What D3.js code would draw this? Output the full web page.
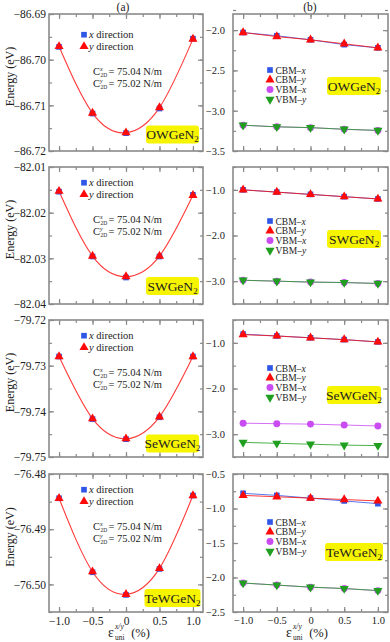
<!DOCTYPE html>
<html>
<head>
<meta charset="utf-8">
<script src="https://cdn.jsdelivr.net/npm/d3@7"></script>
<style>
  body { margin: 0; background: #fff; }
  svg text { font-family: "Liberation Serif", "DejaVu Serif", serif; fill: #222; }
</style>
</head>
<body>
<svg id="chart" width="390" height="642"></svg>
<script>
// strain values (%), shared by all panels
var strain = [-1.0, -0.5, 0, 0.5, 1.0];
var xTickLabels = ["\u22121.0", "\u22120.5", "0", "0.5", "1.0"];
var names = ["OWGeN", "SWGeN", "SeWGeN", "TeWGeN"];

// total energy (eV), x and y direction
var totalX = [
    [-86.6972, -86.7118, -86.7161, -86.7107, -86.6954],
    [-82.0154, -82.0296, -82.0342, -82.0296, -82.0161],
    [-79.7280, -79.7417, -79.7461, -79.7413, -79.7280],
    [-76.4844, -76.4978, -76.5019, -76.4972, -76.4839]
];
var totalY = [
    [-86.6971, -86.7117, -86.7160, -86.7105, -86.6955],
    [-82.0153, -82.0295, -82.0340, -82.0295, -82.0162],
    [-79.7280, -79.7416, -79.7460, -79.7412, -79.7280],
    [-76.4844, -76.4977, -76.5018, -76.4971, -76.4839]
];

// band edges (eV)
var cbmX = [
    [-2.03, -2.07, -2.12, -2.18, -2.22],
    [-1.00, -1.05, -1.10, -1.15, -1.20],
    [-0.81, -0.85, -0.89, -0.93, -0.98],
    [-0.78, -0.81, -0.85, -0.89, -0.93]
];
var cbmY = [
    [-2.03, -2.08, -2.12, -2.17, -2.22],
    [-1.00, -1.05, -1.10, -1.15, -1.20],
    [-0.82, -0.85, -0.89, -0.93, -0.98],
    [-0.81, -0.83, -0.85, -0.87, -0.89]
];
var vbmX = [
    [-3.18, -3.20, -3.21, -3.23, -3.245],
    [-2.98, -3.00, -3.02, -3.03, -3.05],
    [-2.76, -2.77, -2.78, -2.80, -2.82],
    [-2.08, -2.11, -2.14, -2.16, -2.19]
];
var vbmY = [
    [-3.18, -3.20, -3.21, -3.23, -3.245],
    [-2.98, -3.00, -3.02, -3.03, -3.05],
    [-3.18, -3.20, -3.22, -3.24, -3.25],
    [-2.08, -2.11, -2.14, -2.16, -2.19]
];

// axis extents and ticks
var leftDomains = [[-86.72, -86.69], [-82.04, -82.01], [-79.75, -79.72], [-76.505, -76.48]];
var leftMajor = [
    [-86.69, -86.70, -86.71, -86.72],
    [-82.01, -82.02, -82.03, -82.04],
    [-79.72, -79.73, -79.74, -79.75],
    [-76.48, -76.49, -76.50]
];
var rightDomains = [[-3.5, -1.8], [-3.5, -0.5], [-3.5, -0.5], [-2.5, -0.5]];
var rightMajor = [
    [-2.0, -2.5, -3.0, -3.5],
    [-1.0, -2.0, -3.0],
    [-1.0, -2.0, -3.0],
    [-0.5, -1.0, -1.5, -2.0, -2.5]
];
var rightMinorStep = [0.25, 0.5, 0.5, 0.25];

var svg = d3.select("#chart");
var top_ = [14, 167, 320, 474], bottom_ = [151, 304, 457, 612];
var colL = [49, 203], colR = [233, 388];
var gray = "#8a8a8a";
var blue = "#2f56e6", red = "#ff0a0a", magenta = "#c94cf2", green = "#1f9e1f";

function range(a, b, step) {
    var out = [];
    var n = Math.round((b - a) / step);
    for (var i = 0; i <= n; ++i) out.push(+(a + i * step).toFixed(4));
    return out;
}

function frame(g, x, y, majorY, minorY, fmt, pad, fs, showX) {
    var x0 = x.range()[0], x1 = x.range()[1];
    var y0 = y.range()[0], y1 = y.range()[1];
    var xMinor = range(-1.0, 1.0, 0.25);

    var ax = [
	[d3.axisLeft(y).tickValues(majorY).tickFormat(fmt).tickSize(-5).tickPadding(pad), x0, 0],
	[d3.axisLeft(y).tickValues(minorY).tickFormat("").tickSize(-3), x0, 0],
	[d3.axisRight(y).tickValues(majorY).tickFormat("").tickSize(-5), x1, 0],
	[d3.axisRight(y).tickValues(minorY).tickFormat("").tickSize(-3), x1, 0],
	[d3.axisTop(x).tickValues(strain).tickFormat("").tickSize(-5), 0, y1],
	[d3.axisTop(x).tickValues(xMinor).tickFormat("").tickSize(-3), 0, y1],
	[d3.axisBottom(x).tickValues(strain).tickFormat(function (d, i) { return showX ? xTickLabels[i] : ""; })
	    .tickSize(-5).tickPadding(5), 0, y0],
	[d3.axisBottom(x).tickValues(xMinor).tickFormat("").tickSize(-3), 0, y0]
    ];
    ax.forEach(function (a) {
	var ag = g.append("g").attr("transform", "translate(" + a[1] + "," + a[2] + ")").call(a[0].tickSizeOuter(0));
	ag.select(".domain").remove();
	ag.selectAll("line").attr("stroke", gray).attr("stroke-width", 1.2);
	ag.selectAll("text").attr("font-size", fs).attr("font-family", "Liberation Serif").attr("fill", "#222");
    });
    g.append("rect").attr("x", x0).attr("y", y1).attr("width", x1 - x0).attr("height", y0 - y1)
	.attr("fill", "none").attr("stroke", gray).attr("stroke-width", 1.6);
}

function nameBox(g, cx, cy, w, name) {
    g.append("rect").attr("x", cx - w / 2).attr("y", cy - 9).attr("width", w).attr("height", 18)
	.attr("rx", 3).attr("fill", "#f7f400");
    var t = g.append("text").attr("x", cx).attr("y", cy + 4.5).attr("text-anchor", "middle")
	.attr("font-size", 13.5);
    t.append("tspan").text(name);
    t.append("tspan").attr("font-size", 9).attr("dy", 3).text("2");
}

var tri = d3.symbol().type(d3.symbolTriangle).size(36);
var triDown = d3.symbol().type(d3.symbolTriangle).size(36);
var sq = d3.symbol().type(d3.symbolSquare).size(32);
var circ = d3.symbol().type(d3.symbolCircle).size(38);

function marks(g, x, y, vals, sym, color, rot) {
    g.selectAll(null).data(vals).enter().append("path")
	.attr("d", sym())
	.attr("transform", function (d, i) {
	    return "translate(" + x(strain[i]) + "," + y(d) + ")" + (rot ? " rotate(180)" : "");
	})
	.attr("fill", color);
}

for (var p = 0; p < 4; ++p) {
    /**
     * Left column: total energy vs strain.
     */
    var gl = svg.append("g");
    var xl = d3.scaleLinear().domain([-1.15, 1.15]).range(colL);
    var yl = d3.scaleLinear().domain(leftDomains[p]).range([bottom_[p], top_[p]]);
    var minorL = range(leftDomains[p][0], leftDomains[p][1], 0.005);
    frame(gl, xl, yl, leftMajor[p], minorL, d3.format(".2f"), 3, 11.5, p == 3);

    var fit = d3.line().curve(d3.curveNatural)
	.x(function (d, i) { return xl(strain[i]); })
	.y(function (d) { return yl(d); });
    gl.append("path").attr("d", fit(totalY[p])).attr("fill", "none")
	.attr("stroke", "#ff3a3a").attr("stroke-width", 1.1);
    marks(gl, xl, yl, totalX[p], sq, blue, false);
    marks(gl, xl, yl, totalY[p], tri, red, false);

    var ly = top_[p] + (p == 0 ? 24.2 : 19.2);
    gl.append("path").attr("d", sq()).attr("transform", "translate(84," + (ly - 3.5) + ")").attr("fill", blue);
    gl.append("path").attr("d", tri()).attr("transform", "translate(84," + (ly + 8.2) + ")").attr("fill", red);
    [["x", " direction", ly], ["y", " direction", ly + 11.7]].forEach(function (r) {
	var t = gl.append("text").attr("x", 89).attr("y", r[2]).attr("font-size", 10.5);
	t.append("tspan").attr("font-style", "italic").text(r[0]);
	t.append("tspan").text(r[1]);
    });

    // elastic constants: both lines in one text, C with stacked super/subscript
    var cy = top_[p] + (p == 0 ? 58 : 53);
    var ct = gl.append("text").attr("x", 93).attr("y", cy + 2.5).attr("font-size", 10.5);
    [["x", "75.04"], ["y", "75.02"]].forEach(function (r, k) {
	ct.append("tspan").attr("x", 93).attr("dy", k == 0 ? 0 : 12).text("C");
	ct.append("tspan").attr("font-size", 6).attr("font-style", "italic").attr("dy", -3.6).text(r[0]);
	ct.append("tspan").attr("font-size", 5.5).attr("x", 100.4).attr("dy", 5.6).text("2D");
	ct.append("tspan").attr("x", 108.5).attr("dy", -2).text("= " + r[1] + " N/m");
    });

    var boxOff = [-16.5, -18, -13.5, -14];
    nameBox(gl, 172.5, bottom_[p] + boxOff[p], p == 3 ? 56 : 53, names[p]);

    gl.append("text").attr("transform", "translate(14," + ((top_[p] + bottom_[p]) / 2 - 6) + ") rotate(-90)")
	.attr("text-anchor", "middle").attr("font-size", 12).text("Energy (eV)");

    /**
     * Right column: band edges vs strain.
     */
    var gr = svg.append("g");
    var xr = d3.scaleLinear().domain([-1.15, 1.15]).range(colR);
    var yr = d3.scaleLinear().domain(rightDomains[p]).range([bottom_[p], top_[p]]);
    var minorR = range(rightDomains[p][0], rightDomains[p][1], rightMinorStep[p]);
    frame(gr, xr, yr, rightMajor[p], minorR, d3.format(".1f"), 8, 10.5, p == 3);

    var ln = d3.line()
	.x(function (d, i) { return xr(strain[i]); })
	.y(function (d) { return yr(d); });
    [[cbmX[p], blue], [cbmY[p], red], [vbmX[p], magenta], [vbmY[p], green]].forEach(function (s) {
	gr.append("path").attr("d", ln(s[0])).attr("fill", "none")
	    .attr("stroke", s[1]).attr("stroke-width", 1).attr("stroke-opacity", 0.8);
    });
    marks(gr, xr, yr, cbmX[p], sq, blue, false);
    marks(gr, xr, yr, cbmY[p], tri, red, false);
    marks(gr, xr, yr, vbmX[p], circ, magenta, false);
    marks(gr, xr, yr, vbmY[p], triDown, green, true);

    var legOff = [56, 54, 48, 48];
    var rows = [["CBM\u2013", "x", sq, blue, false], ["CBM\u2013", "y", tri, red, false],
		["VBM\u2013", "x", circ, magenta, false], ["VBM\u2013", "y", triDown, green, true]];
    rows.forEach(function (r, k) {
	var yy = top_[p] + legOff[p] + k * 9.8;
	gr.append("path").attr("d", r[2]())
	    .attr("transform", "translate(270," + yy + ")" + (r[4] ? " rotate(180)" : ""))
	    .attr("fill", r[3]);
	var t = gr.append("text").attr("x", 275.5).attr("y", yy + 3.5).attr("font-size", 9.5);
	t.append("tspan").text(r[0]);
	t.append("tspan").attr("font-style", "italic").text(r[1]);
    });

    var rBoxOff = [72, 72, 75, 78];
    nameBox(gr, 354, top_[p] + rBoxOff[p], p == 3 ? 58 : 54, names[p]);
}

// panel titles
svg.append("text").attr("x", 123).attr("y", 11).attr("text-anchor", "middle").attr("font-size", 11.5).text("(a)");
svg.append("text").attr("x", 310).attr("y", 11).attr("text-anchor", "middle").attr("font-size", 11.5).text("(b)");

// x axis titles
[129, 307].forEach(function (cx) {
    var x0 = cx - 21, yb = 637;
    var t = svg.append("text").attr("x", x0).attr("y", yb).attr("font-size", 14);
    t.append("tspan").text("\u03b5");
    t.append("tspan").attr("font-size", 7.5).attr("font-style", "italic").attr("x", x0 + 7).attr("dy", -8).text("x/y");
    t.append("tspan").attr("font-size", 7.5).attr("x", x0 + 7).attr("dy", 10.5).text("uni");
    t.append("tspan").attr("font-size", 12.5).attr("x", x0 + 20).attr("dy", -2.5).text(" (%)");
});
</script>
</body>
</html>
